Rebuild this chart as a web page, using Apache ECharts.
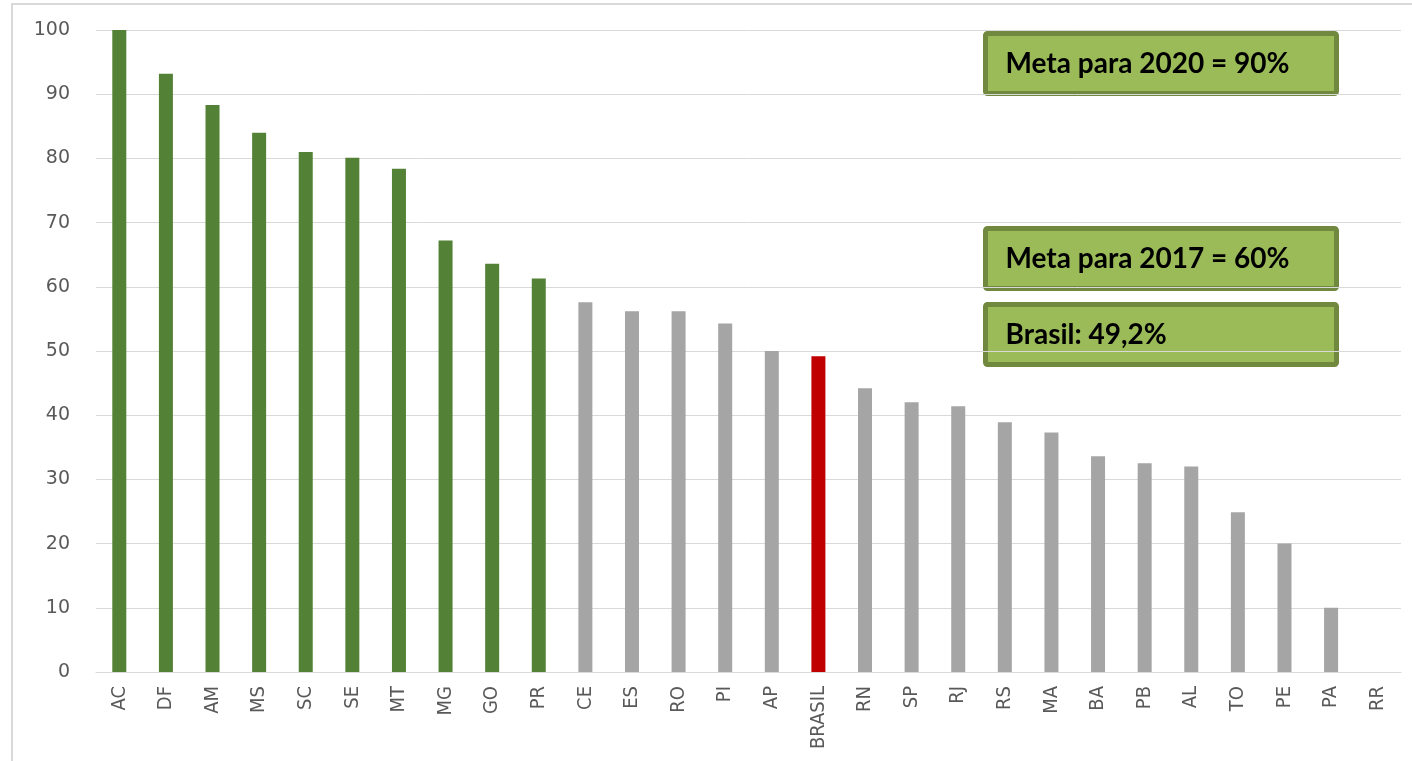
<!DOCTYPE html>
<html>
<head>
<meta charset="utf-8">
<title>Cobertura por UF</title>
<script src="https://cdn.jsdelivr.net/npm/echarts@6/dist/echarts.min.js"></script>
<style>
  html, body { margin: 0; padding: 0; background: #ffffff; }
  #chart { width: 1412px; height: 761px; }
</style>
</head>
<body>
<div id="chart"></div>
<script>
// States (plus the national figure) ordered by value
const categories = ['AC', 'DF', 'AM', 'MS', 'SC', 'SE', 'MT', 'MG', 'GO', 'PR',
  'CE', 'ES', 'RO', 'PI', 'AP', 'BRASIL', 'RN', 'SP', 'RJ', 'RS', 'MA', 'BA',
  'PB', 'AL', 'TO', 'PE', 'PA', 'RR'];
const values = [100, 93.2, 88.3, 84.0, 81.0, 80.1, 78.4, 67.2, 63.6, 61.3,
  57.6, 56.2, 56.2, 54.3, 50.0, 49.2, 44.2, 42.0, 41.4, 38.9, 37.3, 33.6,
  32.5, 32.0, 24.9, 20.0, 10.0, 0];
const yTicks = [0, 10, 20, 30, 40, 50, 60, 70, 80, 90, 100];

// Targets
const meta2020 = 90;
const meta2017 = 60;
const nationalLabel = 'BRASIL';

const GREEN = '#538135';
const GRAY = '#a5a5a5';
const RED = '#c00000';

const fmt = v => String(v).replace('.', ',') + '%';
const brasilValue = values[categories.indexOf(nationalLabel)];

const boxTexts = [
  'Meta para 2020 = ' + fmt(meta2020),
  'Meta para 2017 = ' + fmt(meta2017),
  'Brasil: ' + fmt(brasilValue)
];
const boxTops = [31, 226, 302];

function noteBox(text, top) {
  return {
    type: 'group',
    left: 983,
    top: top,
    children: [
      {
        type: 'rect',
        shape: { x: 0, y: 0, width: 351, height: 60, r: 2 },
        style: { fill: '#9bbb59', stroke: '#71893f', lineWidth: 5 }
      },
      {
        type: 'text',
        x: 20,
        y: 30,
        style: {
          text: text,
          font: 'bold 28px Lato, "Open Sans", sans-serif',
          fill: '#000000',
          textVerticalAlign: 'middle',
          verticalAlign: 'middle'
        }
      }
    ]
  };
}

const chart = echarts.init(document.getElementById('chart'), null, { renderer: 'canvas' });

chart.setOption({
  animation: false,
  backgroundColor: '#ffffff',
  grid: { left: 96, right: 11, top: 30, bottom: 89, containLabel: false },
  xAxis: {
    type: 'category',
    data: categories,
    axisLine: { show: true, lineStyle: { color: '#d9d9d9', width: 1 } },
    axisTick: { show: false },
    axisLabel: {
      rotate: 90,
      interval: 0,
      margin: 14,
      color: '#595959',
      fontSize: 20,
      fontFamily: '"DejaVu Sans Condensed", "DejaVu Sans", sans-serif'
    }
  },
  yAxis: {
    type: 'value',
    min: yTicks[0],
    max: yTicks[yTicks.length - 1],
    interval: yTicks[1] - yTicks[0],
    axisLine: { show: false },
    axisTick: { show: false },
    splitLine: { lineStyle: { color: '#d9d9d9', width: 1 } },
    axisLabel: {
      margin: 26,
      color: '#595959',
      fontSize: 19,
      fontFamily: '"DejaVu Sans", sans-serif'
    }
  },
  series: [{
    type: 'bar',
    data: values,
    barWidth: 14,
    itemStyle: {
      color: p => {
        if (categories[p.dataIndex] === nationalLabel) return RED;
        return p.value >= meta2017 ? GREEN : GRAY;
      }
    }
  }],
  graphic: [
    {
      type: 'rect',
      shape: { x: 12, y: 4, width: 1500, height: 900 },
      style: { fill: 'none', stroke: '#d9d9d9', lineWidth: 2 },
      silent: true,
      z: 100
    },
    ...boxTexts.map((t, i) => noteBox(t, boxTops[i]))
  ]
});
</script>
</body>
</html>
